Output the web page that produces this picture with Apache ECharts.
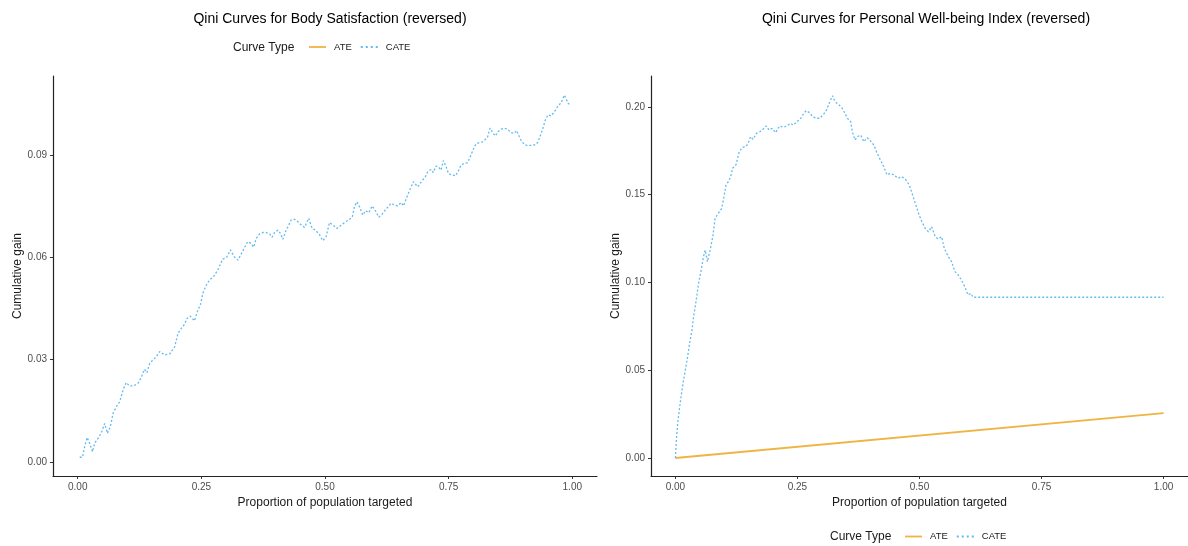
<!DOCTYPE html>
<html>
<head>
<meta charset="utf-8">
<script src="https://cdn.jsdelivr.net/npm/echarts@6/dist/echarts.min.js"></script>
<style>html,body{margin:0;padding:0;background:#fff}#c{width:1188px;height:546px}</style>
</head>
<body>
<div id="c"></div>
<script>
// ---- data ----
var xTicks = [0, 0.25, 0.5, 0.75, 1];
var leftYTicks = [0, 0.03, 0.06, 0.09];
var rightYTicks = [0, 0.05, 0.10, 0.15, 0.20];
var legendNames = ['ATE', 'CATE'];

// Left panel: Body Satisfaction (reversed), CATE curve
var bodyX = [0.004,0.0095,0.014,0.019,0.024,0.030,0.034,0.041,0.048,0.0545,0.060,0.066,0.0715,0.078,0.085,0.0916,0.098,0.105,0.113,0.122,0.129,0.135,0.140,0.1455,0.1556,0.160,0.1657,0.176,0.186,0.196,0.2027,0.2095,0.216,0.221,0.2277,0.236,0.243,0.248,0.253,0.260,0.2667,0.276,0.285,0.293,0.301,0.3087,0.3164,0.324,0.332,0.3435,0.351,0.3556,0.361,0.3677,0.374,0.381,0.388,0.393,0.398,0.4047,0.4095,0.4148,0.420,0.425,0.4317,0.438,0.445,0.452,0.4586,0.467,0.474,0.481,0.489,0.4956,0.5024,0.509,0.516,0.524,0.5307,0.539,0.548,0.555,0.5596,0.5643,0.5697,0.5764,0.582,0.5886,0.5953,0.602,0.6087,0.6155,0.622,0.629,0.6337,0.640,0.647,0.654,0.6586,0.6653,0.672,0.6788,0.6875,0.6976,0.703,0.7077,0.7145,0.719,0.7246,0.73,0.7347,0.7394,0.7448,0.750,0.757,0.7636,0.770,0.775,0.782,0.7885,0.795,0.80,0.8054,0.812,0.8188,0.824,0.829,0.8337,0.839,0.8444,0.85,0.856,0.8626,0.8693,0.876,0.883,0.8875,0.893,0.898,0.905,0.912,0.9186,0.925,0.930,0.9347,0.940,0.9455,0.951,0.957,0.9616,0.967,0.972,0.977,0.984,0.9885,0.9926,0.997];
var bodyCATE = [0.0014,0.0014,0.0045,0.0072,0.0055,0.0030,0.0055,0.0069,0.0086,0.0113,0.0084,0.0104,0.0143,0.0162,0.0177,0.0211,0.0233,0.0223,0.0223,0.0231,0.0250,0.0272,0.0262,0.0290,0.0304,0.0311,0.0324,0.0314,0.0317,0.0338,0.0377,0.0392,0.0404,0.0421,0.0428,0.0414,0.0446,0.0460,0.0495,0.0519,0.0534,0.0546,0.0568,0.0595,0.0600,0.0622,0.0602,0.0592,0.0614,0.0646,0.0641,0.0630,0.0656,0.0669,0.0673,0.0673,0.0669,0.0659,0.0673,0.0680,0.0671,0.0653,0.0675,0.0690,0.0710,0.0712,0.0705,0.0695,0.0688,0.0715,0.0685,0.0680,0.0666,0.0649,0.0661,0.0702,0.0695,0.0685,0.0692,0.0702,0.0710,0.0718,0.0749,0.0763,0.0749,0.0724,0.0737,0.0731,0.0751,0.0737,0.0718,0.0727,0.0739,0.0751,0.0759,0.0754,0.0751,0.0761,0.0751,0.0776,0.0800,0.0822,0.0807,0.0827,0.0837,0.0851,0.0858,0.0849,0.0868,0.0864,0.0856,0.0884,0.0866,0.0845,0.0842,0.0839,0.0854,0.0871,0.0876,0.0878,0.0900,0.0917,0.0933,0.0937,0.0939,0.0946,0.0954,0.0979,0.0966,0.0956,0.0969,0.0976,0.0979,0.0976,0.0966,0.0964,0.0972,0.0954,0.0939,0.0930,0.0927,0.0930,0.0930,0.0937,0.0954,0.0976,0.1003,0.1018,0.1015,0.1023,0.1034,0.1047,0.1052,0.1076,0.1062,0.1050,0.1050];

// Right panel: Personal Well-being Index (reversed)
var pwiX = [0,0.002,0.0047,0.0088,0.0116,0.0156,0.0203,0.025,0.029,0.034,0.0372,0.0427,0.0474,0.0522,0.0575,0.061,0.0657,0.0711,0.0766,0.0813,0.088,0.095,0.0996,0.1037,0.1084,0.1132,0.1172,0.124,0.1307,0.1376,0.1443,0.149,0.1538,0.159,0.166,0.1728,0.1795,0.1863,0.1917,0.1985,0.2053,0.2134,0.2215,0.2283,0.2352,0.2419,0.2486,0.2555,0.2622,0.2677,0.2744,0.2811,0.288,0.2961,0.305,0.3096,0.315,0.3218,0.3272,0.334,0.3408,0.3455,0.3523,0.3591,0.3624,0.3679,0.3726,0.3795,0.3862,0.3929,0.3998,0.4065,0.4132,0.420,0.4268,0.4335,0.4404,0.4472,0.456,0.464,0.4722,0.479,0.4858,0.4925,0.498,0.5047,0.5116,0.5183,0.525,0.532,0.5386,0.5453,0.5508,0.559,0.5657,0.5725,0.5793,0.586,0.5928,0.5996,0.605,0.6098,1.0];
var pwiCATE = [0,0.0103,0.0198,0.0292,0.0349,0.0426,0.0501,0.0577,0.0653,0.0729,0.0805,0.0900,0.0995,0.1062,0.1147,0.1185,0.1119,0.1185,0.1261,0.1366,0.1394,0.1423,0.1489,0.1556,0.1574,0.1603,0.1651,0.1670,0.1745,0.1770,0.1774,0.1793,0.1831,0.1816,0.1850,0.1859,0.1873,0.1892,0.1869,0.1878,0.1854,0.1892,0.1884,0.1892,0.1907,0.1897,0.1916,0.1930,0.1960,0.1979,0.1968,0.1945,0.1936,0.1936,0.1964,0.1983,0.2021,0.2064,0.2030,0.2015,0.1996,0.1973,0.1936,0.1916,0.1859,0.1812,0.1831,0.1840,0.1802,0.1825,0.1806,0.1783,0.1736,0.1698,0.1660,0.1613,0.1622,0.1613,0.1594,0.1603,0.1584,0.1556,0.1499,0.1442,0.1394,0.1347,0.1309,0.1289,0.1318,0.1261,0.1248,0.1261,0.1195,0.1147,0.1119,0.1062,0.1043,0.1014,0.0976,0.0929,0.0938,0.0916,0.0916];
var pwiATEX = [0, 1];
var pwiATE = [0, 0.0256];

function zip(xs, ys) { return xs.map(function (x, i) { return [x, ys[i]]; }); }

var ATE_COLOR = '#EFB444';
var CATE_COLOR = '#63BBEE';
var FONT = 'Liberation Sans, Arial, sans-serif';
var DOTS_ICON = 'path://M0,0h2v2h-2z M5,0h2v2h-2z M10,0h2v2h-2z M15,0h2v2h-2z';

function xAxisCfg(gridIndex) {
  return {
    gridIndex: gridIndex, type: 'value', min: -0.05, max: 1.05,
    name: 'Proportion of population targeted', nameLocation: 'middle', nameGap: 20,
    nameTextStyle: { fontSize: 12, color: '#1a1a1a', fontFamily: FONT },
    axisLine: { show: true, onZero: false, lineStyle: { color: '#222', width: 1.2 } },
    axisTick: { show: true, length: 3, customValues: xTicks, lineStyle: { color: '#333' } },
    axisLabel: { customValues: xTicks, margin: 6, fontSize: 10, color: '#4d4d4d', fontFamily: FONT,
      formatter: function (v) { return v.toFixed(2); } },
    splitLine: { show: false }
  };
}
function yAxisCfg(gridIndex, min, max, ticks, gap) {
  return {
    gridIndex: gridIndex, type: 'value', min: min, max: max,
    name: 'Cumulative gain', nameLocation: 'middle', nameGap: gap,
    nameTextStyle: { fontSize: 12, color: '#1a1a1a', fontFamily: FONT },
    axisLine: { show: true, onZero: false, lineStyle: { color: '#222', width: 1.2 } },
    axisTick: { show: true, length: 3, customValues: ticks, lineStyle: { color: '#333' } },
    axisLabel: { customValues: ticks, margin: 6, fontSize: 10, color: '#4d4d4d', fontFamily: FONT,
      formatter: function (v) { return v.toFixed(2); } },
    splitLine: { show: false }
  };
}

function legendCfg(left, top) {
  return {
    left: left, top: top, padding: 0, orient: 'horizontal',
    data: [
      { name: legendNames[0], icon: 'rect', itemStyle: { color: ATE_COLOR } },
      { name: legendNames[1], icon: DOTS_ICON, itemStyle: { color: CATE_COLOR } }
    ],
    itemWidth: 17, itemHeight: 1.8, itemGap: 9, symbolKeepAspect: false,
    textStyle: { fontSize: 9.5, color: '#1a1a1a', fontFamily: FONT, padding: [0, 0, 0, 3] },
    selectedMode: false
  };
}

var option = {
  backgroundColor: '#fff',
  animation: false,
  title: [
    { text: 'Qini Curves for Body Satisfaction (reversed)', left: 325, top: 7, textAlign: 'center',
      textStyle: { fontSize: 14, fontWeight: 'normal', color: '#000', fontFamily: FONT } },
    { text: 'Qini Curves for Personal Well-being Index (reversed)', left: 921, top: 7, textAlign: 'center',
      textStyle: { fontSize: 14, fontWeight: 'normal', color: '#000', fontFamily: FONT } }
  ],
  legend: [legendCfg(309, 42), legendCfg(905, 531.5)],
  graphic: [
    { type: 'text', left: 233, top: 41.5, style: { text: 'Curve Type', fontSize: 12, fill: '#1a1a1a', fontFamily: FONT } },
    { type: 'text', left: 830, top: 531, style: { text: 'Curve Type', fontSize: 12, fill: '#1a1a1a', fontFamily: FONT } }
  ],
  grid: [
    { left: 53, top: 76, width: 544, height: 400 },
    { left: 651, top: 76, width: 541, height: 400 }
  ],
  xAxis: [xAxisCfg(0), xAxisCfg(1)],
  yAxis: [
    yAxisCfg(0, -0.0041, 0.1132, leftYTicks, 28),
    yAxisCfg(1, -0.01026, 0.21766, rightYTicks, 29)
  ],
  series: [
    { name: 'ATE', type: 'line', xAxisIndex: 0, yAxisIndex: 0, data: [], showSymbol: false, symbol: 'none',
      lineStyle: { color: ATE_COLOR, width: 1.8 }, itemStyle: { color: ATE_COLOR } },
    { name: 'CATE', type: 'line', xAxisIndex: 0, yAxisIndex: 0, data: zip(bodyX, bodyCATE), showSymbol: false, symbol: 'none',
      lineStyle: { color: CATE_COLOR, width: 1.3, type: [2, 2] }, itemStyle: { color: CATE_COLOR } },
    { name: 'ATE', type: 'line', xAxisIndex: 1, yAxisIndex: 1, data: zip(pwiATEX, pwiATE), showSymbol: false, symbol: 'none',
      lineStyle: { color: ATE_COLOR, width: 1.8 }, itemStyle: { color: ATE_COLOR } },
    { name: 'CATE', type: 'line', xAxisIndex: 1, yAxisIndex: 1, data: zip(pwiX, pwiCATE), showSymbol: false, symbol: 'none',
      lineStyle: { color: CATE_COLOR, width: 1.3, type: [2, 2] }, itemStyle: { color: CATE_COLOR } }
  ]
};

var chart = echarts.init(document.getElementById('c'), null, { renderer: 'canvas' });
chart.setOption(option);
</script>
</body>
</html>
